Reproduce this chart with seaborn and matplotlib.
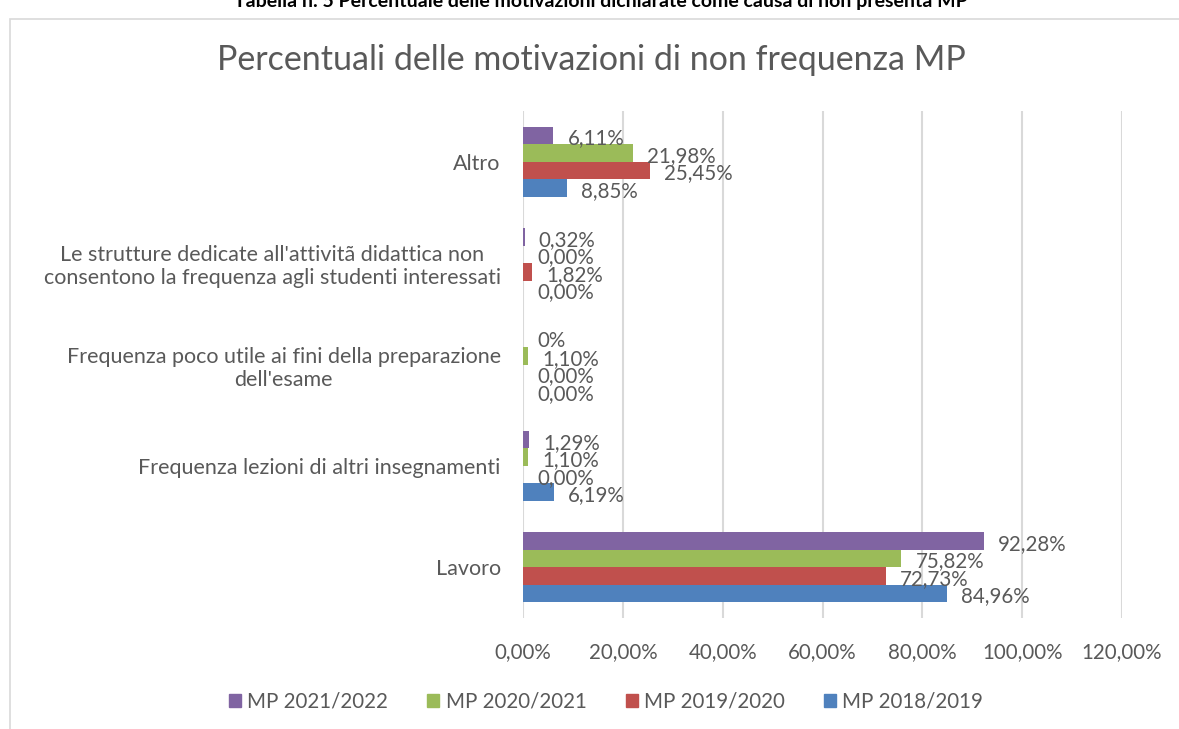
import matplotlib
matplotlib.use("Agg")
import matplotlib.pyplot as plt
from matplotlib.patches import Rectangle
import seaborn as sns
import pandas as pd

categories = [
    "Altro",
    "Le strutture dedicate all'attivitã didattica non\nconsentono la frequenza agli studenti interessati",
    "Frequenza poco utile ai fini della preparazione\ndell'esame",
    "Frequenza lezioni di altri insegnamenti",
    "Lavoro",
]
series = ["MP 2021/2022", "MP 2020/2021", "MP 2019/2020", "MP 2018/2019"]
v_2021_2022 = [6.11, 0.32, 0.00, 1.29, 92.28]
v_2020_2021 = [21.98, 0.00, 1.10, 1.10, 75.82]
v_2019_2020 = [25.45, 1.82, 0.00, 0.00, 72.73]
v_2018_2019 = [8.85, 0.00, 0.00, 6.19, 84.96]
label_decimals = {
    "MP 2021/2022": [2, 2, 0, 2, 2],
    "MP 2020/2021": [2, 2, 2, 2, 2],
    "MP 2019/2020": [2, 2, 2, 2, 2],
    "MP 2018/2019": [2, 2, 2, 2, 2],
}
x_ticks = [0, 20, 40, 60, 80, 100, 120]
colors = ["#8064A2", "#9BBB59", "#C0504D", "#4F81BD"]

values = {s: v for s, v in zip(series, [v_2021_2022, v_2020_2021, v_2019_2020, v_2018_2019])}
rows = []
for s in series:
    for c, v in zip(categories, values[s]):
        rows.append({"cat": c, "series": s, "val": v})
df = pd.DataFrame(rows)

sns.set_theme(style="white")
plt.rcParams["font.family"] = ["Lato", "DejaVu Sans"]
txt = "#595959"
fs = 14.8

fig = plt.figure(figsize=(11.79, 7.29), dpi=100)
ax = fig.add_axes([523 / 1179, 1 - 618 / 729, (1122 - 523) / 1179, (618 - 111) / 729])

sns.barplot(data=df, y="cat", x="val", hue="series", order=categories,
            hue_order=series, palette=colors, orient="h", width=0.69,
            saturation=1, linewidth=0, ax=ax, legend=True, errorbar=None)

ax.set_xlim(0, 120)
ax.set_xticks(x_ticks)
ax.set_xticklabels([f"{t:.2f}%".replace(".", ",") for t in x_ticks], fontsize=fs, color=txt)
ax.tick_params(axis="x", length=0, pad=17)
ax.tick_params(axis="y", length=0, pad=16)
for lab in ax.get_yticklabels():
    lab.set_fontsize(15.5)
    lab.set_color(txt)
    lab.set_multialignment("center")
ax.set_xlabel("")
ax.set_ylabel("")
ax.grid(axis="x", color="#D9D9D9", linewidth=1.5)
ax.set_axisbelow(True)
for sp in ax.spines.values():
    sp.set_visible(False)

for s, cont in zip(series, ax.containers):
    decs = label_decimals[s]
    for bar, d in zip(cont, decs):
        w = bar.get_width()
        yc = bar.get_y() + bar.get_height() / 2
        lbl = f"{w:.{d}f}%".replace(".", ",")
        ax.annotate(lbl, (w, yc), xytext=(14, -3), textcoords="offset pixels",
                    ha="left", va="center", fontsize=fs, color=txt)

ax.get_legend().remove()
handles = [Rectangle((0, 0), 1, 1, color=c) for c in colors]
fig.legend(handles, series, loc="center", bbox_to_anchor=(606 / 1179, 1 - 702 / 729),
           ncol=4, frameon=False, fontsize=fs, handlelength=0.6, handleheight=0.6,
           handletextpad=0.3, columnspacing=1.9, labelcolor=txt)

fig.text(591 / 1179, 1 - 60 / 729, "Percentuali delle motivazioni di non frequenza MP",
         ha="center", va="center", fontsize=24.5, color=txt)
fig.text(601 / 1179, 1 - 7 / 729,
         "Tabella n. 5 Percentuale delle motivazioni dichiarate come causa di non presenta MP",
         ha="center", va="baseline", fontsize=14, color="black", fontweight="bold")

fig.patches.append(Rectangle((10 / 1179, -0.05), 1.2, 1 - 19 / 729 + 0.05,
                             transform=fig.transFigure, fill=False,
                             edgecolor="#D9D9D9", linewidth=1.2))

fig.savefig("out.png", dpi=100)
